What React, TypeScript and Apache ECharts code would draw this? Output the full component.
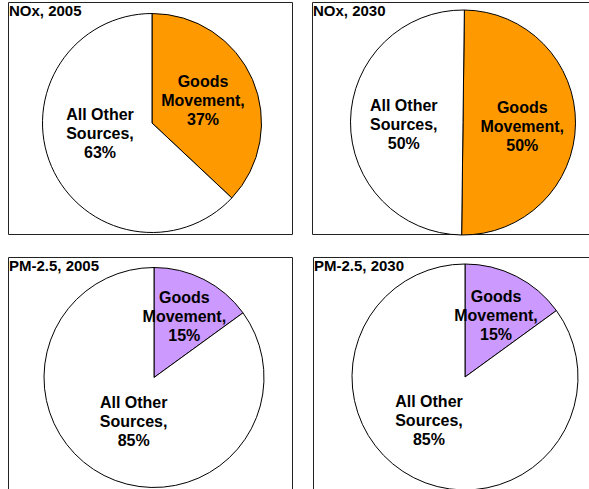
import React, { useEffect, useRef } from "react";
import * as echarts from "echarts";

const categories = ["Goods Movement", "All Other Sources"];
const panelTitles = ["NOx, 2005", "NOx, 2030", "PM-2.5, 2005", "PM-2.5, 2030"];
const nox2005 = [37, 63];
const nox2030 = [50, 50];
const pm2005 = [15, 85];
const pm2030 = [15, 85];

const ORANGE = "#FF9900";
const PURPLE = "#CC99FF";

const FONT = "Arial, 'Liberation Sans', Helvetica, sans-serif";

export default function App() {
  const ref = useRef<HTMLDivElement>(null);

  useEffect(() => {
    if (!ref.current) return;
    const chart = echarts.init(ref.current, null, { renderer: "svg" });

    const panels = [
      { values: nox2005, color: ORANGE, center: [152, 123], r: 109.5, start: 90,
        offsets: [[-2, 0], [1, -12]], box: [8.5, 2.5, 284, 232], title: [9, 3] },
      { values: nox2030, color: ORANGE, center: [463, 122.5], r: 112.5, start: 89.3,
        offsets: [[0, 3], [0, 3]], box: [312.5, 2.5, 300, 232], title: [313, 3] },
      { values: pm2005, color: PURPLE, center: [154, 377.5], r: 110, start: 90,
        offsets: [[4, -9], [6, -8]], box: [8.5, 257.5, 284, 260], title: [9, 258] },
      { values: pm2030, color: PURPLE, center: [465, 377], r: 113, start: 90,
        offsets: [[4, -8], [-9, -10]], box: [313.5, 257.5, 300, 260], title: [314, 258] },
    ];

    const fmt = (p: any) => {
      const name: string = p.name;
      const i = name.lastIndexOf(" ");
      return name.slice(0, i) + "\n" + name.slice(i + 1) + ",\n" + p.value + "%";
    };

    const series = panels.map((pn) => ({
      type: "pie",
      center: pn.center,
      radius: pn.r,
      startAngle: pn.start,
      clockwise: true,
      avoidLabelOverlap: false,
      silent: true,
      emphasis: { disabled: true },
      labelLine: { show: false },
      label: {
        show: true,
        position: "inside",
        formatter: fmt,
        color: "#000",
        fontFamily: FONT,
        fontWeight: "bold",
        fontSize: 16,
        lineHeight: 19,
        align: "center",
      },
      itemStyle: { borderColor: "#000", borderWidth: 1 },
      data: categories.map((c, k) => ({
        name: c,
        value: pn.values[k],
        itemStyle: { color: k === 0 ? pn.color : "#FFFFFF" },
        label: { offset: pn.offsets[k] },
      })),
    }));

    const graphic: any[] = [];
    panels.forEach((pn, i) => {
      graphic.push({
        type: "rect",
        silent: true,
        z: -1,
        shape: { x: pn.box[0], y: pn.box[1], width: pn.box[2], height: pn.box[3] },
        style: { fill: "#fff", stroke: "#222", lineWidth: 1 },
      });
      graphic.push({
        type: "text",
        silent: true,
        x: pn.title[0],
        y: pn.title[1],
        style: {
          text: panelTitles[i],
          fill: "#000",
          font: `bold 15px ${FONT}`,
          textVerticalAlign: "top",
        },
      });
    });

    chart.setOption({
      animation: false,
      backgroundColor: "#fff",
      graphic,
      series,
    });

    return () => chart.dispose();
  }, []);

  return (
    <div
      ref={ref}
      style={{ position: "fixed", left: 0, top: 0, width: 589, height: 489 }}
    />
  );
}
